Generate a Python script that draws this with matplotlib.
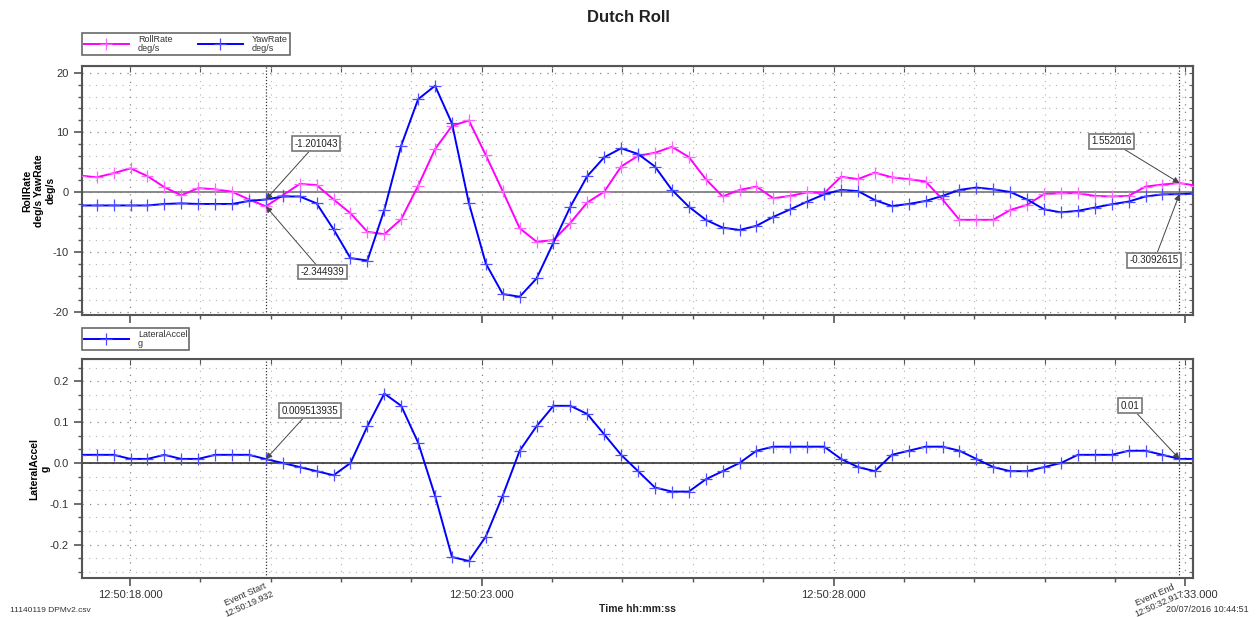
import matplotlib
matplotlib.use('Agg')
import matplotlib.pyplot as plt
from matplotlib.patches import Rectangle
from matplotlib.ticker import MultipleLocator, FixedLocator, FuncFormatter, NullFormatter

plt.rcParams['font.family'] = ['Liberation Sans', 'DejaVu Sans']
plt.rcParams['axes.unicode_minus'] = False

# sample times, seconds after 12:50:00
t_sec = [17.287, 17.527, 17.768, 18.008, 18.249, 18.489, 18.729, 18.970, 19.210, 19.451,
         19.691, 19.932, 20.172, 20.413, 20.653, 20.894, 21.134, 21.375, 21.615, 21.855,
         22.096, 22.336, 22.577, 22.817, 23.058, 23.298, 23.539, 23.779, 24.020, 24.260,
         24.500, 24.741, 24.981, 25.222, 25.462, 25.703, 25.943, 26.184, 26.424, 26.664,
         26.905, 27.145, 27.386, 27.626, 27.867, 28.107, 28.348, 28.588, 28.829, 29.069,
         29.309, 29.550, 29.790, 30.031, 30.271, 30.512, 30.752, 30.993, 31.233, 31.473,
         31.714, 31.954, 32.195, 32.435, 32.676, 32.917, 33.157]

roll_rate = [2.8, 2.5, 3.2, 4.0, 2.7, 0.85, -0.5, 0.7, 0.5, 0.1,
             -1.2, -2.344939, -0.5, 1.4, 1.2, -1.2, -3.5, -6.6, -7.0, -4.5,
             1.1, 7.2, 11.1, 12.0, 6.2, 0.2, -6.0, -8.25, -8.0, -5.1,
             -1.7, 0.1, 4.3, 6.1, 6.6, 7.6, 5.9, 2.2, -0.7, 0.4,
             0.95, -1.0, -0.6, 0.0, -0.15, 2.6, 2.2, 3.3, 2.5, 2.2,
             1.8, -1.2, -4.6, -4.6, -4.6, -2.95, -2.1, -0.3, -0.15, -0.15,
             -0.6, -0.7, -0.6, 0.95, 1.3, 1.552016, 1.1]

yaw_rate = [-2.2, -2.2, -2.2, -2.2, -2.2, -1.95, -1.85, -1.95, -1.95, -1.95,
            -1.45, -1.201043, -0.7, -0.7, -1.85, -6.2, -11.0, -11.4, -2.95, 7.8,
            15.55, 17.8, 11.5, -1.8, -11.9, -17.0, -17.45, -14.4, -8.4, -2.4,
            2.7, 5.85, 7.35, 6.4, 4.3, 0.4, -2.4, -4.6, -5.9, -6.3,
            -5.6, -4.1, -2.85, -1.55, -0.35, 0.4, 0.2, -1.3, -2.3, -1.95,
            -1.45, -0.6, 0.4, 0.8, 0.5, 0.05, -1.2, -2.85, -3.35, -3.1,
            -2.55, -2.0, -1.55, -0.7, -0.35, -0.3092615, -0.2]

lat_accel = [0.02, 0.02, 0.02, 0.01, 0.01, 0.02, 0.01, 0.01, 0.02, 0.02,
             0.02, 0.009513935, 0.0, -0.01, -0.02, -0.03, 0.0, 0.09, 0.17, 0.14,
             0.05, -0.08, -0.23, -0.24, -0.18, -0.08, 0.03, 0.09, 0.14, 0.14,
             0.12, 0.07, 0.02, -0.02, -0.06, -0.07, -0.07, -0.04, -0.02, 0.0,
             0.03, 0.04, 0.04, 0.04, 0.04, 0.01, -0.01, -0.02, 0.02, 0.03,
             0.04, 0.04, 0.03, 0.01, -0.01, -0.02, -0.02, -0.01, 0.0, 0.02,
             0.02, 0.02, 0.03, 0.03, 0.02, 0.01, 0.01]

event_start = 19.932
event_end = 32.917
labelled_times = [18, 23, 28, 33]

W, H = 1256, 617
fig = plt.figure(figsize=(W / 100, H / 100), dpi=100)
ax1 = fig.add_axes([82 / W, (H - 315) / H, (1193 - 82) / W, (315 - 66) / H])
ax2 = fig.add_axes([82 / W, (H - 578) / H, (1193 - 82) / W, (578 - 359) / H])

dots = (0, (1, 5))


def hms(x, pos=None):
    return '12:50:%06.3f' % x


def style_axes(ax, ymajor, yminor):
    ax.set_xlim(17.318, 33.11)
    ax.xaxis.set_major_locator(FixedLocator(labelled_times))
    ax.xaxis.set_minor_locator(MultipleLocator(1))
    ax.yaxis.set_major_locator(MultipleLocator(ymajor))
    ax.yaxis.set_minor_locator(MultipleLocator(yminor))
    ax.grid(which='minor', axis='both', linestyle=dots, color='#b4b4b4', lw=0.8)
    ax.grid(which='major', axis='both', linestyle=dots, color='#888888', lw=0.9)
    for s in ax.spines.values():
        s.set_color('#555555')
        s.set_linewidth(1.5)
    ax.tick_params(which='major', direction='out', length=6, width=1.2,
                   colors='#555555', labelcolor='#333333', labelsize=8)
    ax.tick_params(which='minor', direction='out', length=3, width=1, colors='#555555')
    top = ax.secondary_xaxis('top')
    top.xaxis.set_major_locator(MultipleLocator(1))
    top.xaxis.set_major_formatter(NullFormatter())
    top.tick_params(direction='in', length=4, color='#555555')
    top.spines['top'].set_color('#555555')
    right = ax.secondary_yaxis('right')
    right.yaxis.set_major_locator(MultipleLocator(yminor))
    right.yaxis.set_major_formatter(NullFormatter())
    right.tick_params(direction='in', length=3, color='#555555')
    right.spines['right'].set_color('#555555')
    right.spines['right'].set_linewidth(1.5)
    for x in (event_start, event_end):
        ax.axvline(x, color='#333333', lw=0.9, ls=(0, (1, 1.5)), zorder=1.5)


def callout(ax, text, x, y, dx, dy):
    ax.annotate(text, xy=(x, y), xytext=(dx, dy), textcoords='offset points',
                ha='center', va='center', fontsize=7, color='#222222', zorder=6,
                bbox=dict(boxstyle='square,pad=0.25', fc='white', ec='#777777', lw=1.2),
                arrowprops=dict(arrowstyle='-|>', color='#444444', lw=0.7,
                                mutation_scale=9, shrinkA=0, shrinkB=0))


def legend_box(ax, y, **kw):
    leg = ax.legend(loc='lower left', bbox_to_anchor=(0, y), fontsize=6.5,
                    frameon=True, fancybox=False, edgecolor='#444444',
                    handlelength=5.0, borderaxespad=0, borderpad=0.2,
                    handletextpad=1.0, **kw)
    leg.get_frame().set_linewidth(1.2)
    for txt in leg.get_texts():
        txt.set_linespacing(1.05)
        txt.set_color('#333333')
    return leg


# ---- top panel: roll and yaw rate
style_axes(ax1, 10, 2)
ax1.set_ylim(-20.5, 21.1)
ax1.axhline(0, color='#808080', lw=1.3, zorder=2)
ax1.plot(t_sec, roll_rate, color='#ff00ff', lw=1.4, marker='+', ms=9, mew=0.9,
         mec='#ff66ff', label='RollRate\ndeg/s', zorder=3)
ax1.plot(t_sec, yaw_rate, color='#0000ff', lw=1.4, marker='+', ms=9, mew=0.9,
         mec='#4d4dff', label='YawRate\ndeg/s', zorder=3)
ax1.xaxis.set_major_formatter(NullFormatter())
ax1.set_ylabel('RollRate\ndeg/s YawRate\ndeg/s', fontsize=7.5, fontweight='bold')
ax1.yaxis.set_label_coords(-0.024, 0.5)
legend_box(ax1, 1.044, ncol=2, columnspacing=2.8)

callout(ax1, '-1.201043', event_start, -1.201043, 36, 40)
callout(ax1, '-2.344939', event_start, -2.344939, 40.7, -47.3)
callout(ax1, '1.552016', event_end, 1.552016, -49, 30)
callout(ax1, '-0.3092615', event_end, -0.3092615, -18, -47.5)

# ---- bottom panel: lateral acceleration
style_axes(ax2, 0.1, 0.1 / 3)
ax2.set_ylim(-0.2815, 0.2546)
ax2.axhline(0, color='#222222', lw=1.1, zorder=2)
ax2.plot(t_sec, lat_accel, color='#0000ff', lw=1.4, marker='+', ms=9, mew=0.9,
         mec='#4d4dff', label='LateralAccel\ng', zorder=3)
ax2.xaxis.set_major_formatter(FuncFormatter(hms))
ax2.yaxis.set_major_formatter(FuncFormatter(lambda v, p: '%.1f' % v))
ax2.tick_params(axis='x', which='major', pad=3)
ax2.set_ylabel('LateralAccel\ng', fontsize=7.5, fontweight='bold')
ax2.yaxis.set_label_coords(-0.028, 0.5)
legend_box(ax2, 1.041)

callout(ax2, '0.009513935', event_start, 0.009513935, 31.7, 34.8)
callout(ax2, '0.01', event_end, 0.01, -35.7, 38.2)

# event markers under the time axis
xt = ax2.get_xaxis_transform()
ax2.text(event_start + 0.02, -0.01, 'Event Start\n12:50:19.932', transform=xt,
         rotation=24, rotation_mode='anchor', ha='right', va='top', linespacing=1.1,
         multialignment='center', fontsize=6.5, color='#333333', clip_on=False)
# white patch hiding the start of the last time label, as in the source
fig.add_artist(Rectangle((1126 / W, 1 - 601 / H), 54 / W, 17 / H,
                         transform=fig.transFigure, fc='white', ec='none', zorder=5))
ex, ey = fig.transFigure.inverted().transform(xt.transform((event_end - 0.03, -0.01)))
fig.text(ex, ey, 'Event End\n12:50:32.917', rotation=24, rotation_mode='anchor',
         ha='right', va='top', linespacing=1.1, multialignment='center',
         fontsize=6.5, color='#333333', zorder=6)

fig.text(628 / W, 1 - 18 / H, 'Dutch Roll', ha='center', va='center',
         fontsize=12, fontweight='bold', color='#222222')
fig.text(637 / W, 1 - 609 / H, 'Time hh:mm:ss', ha='center', va='center',
         fontsize=7.5, fontweight='bold', color='#222222')
fig.text(10 / W, 1 - 610 / H, '11140119 DPMv2.csv', ha='left', va='center',
         fontsize=6, color='#333333')
fig.text(1166 / W, 1 - 610 / H, '20/07/2016 10:44:51', ha='left', va='center',
         fontsize=6.5, color='#333333')

fig.savefig('out.png', dpi=100)
